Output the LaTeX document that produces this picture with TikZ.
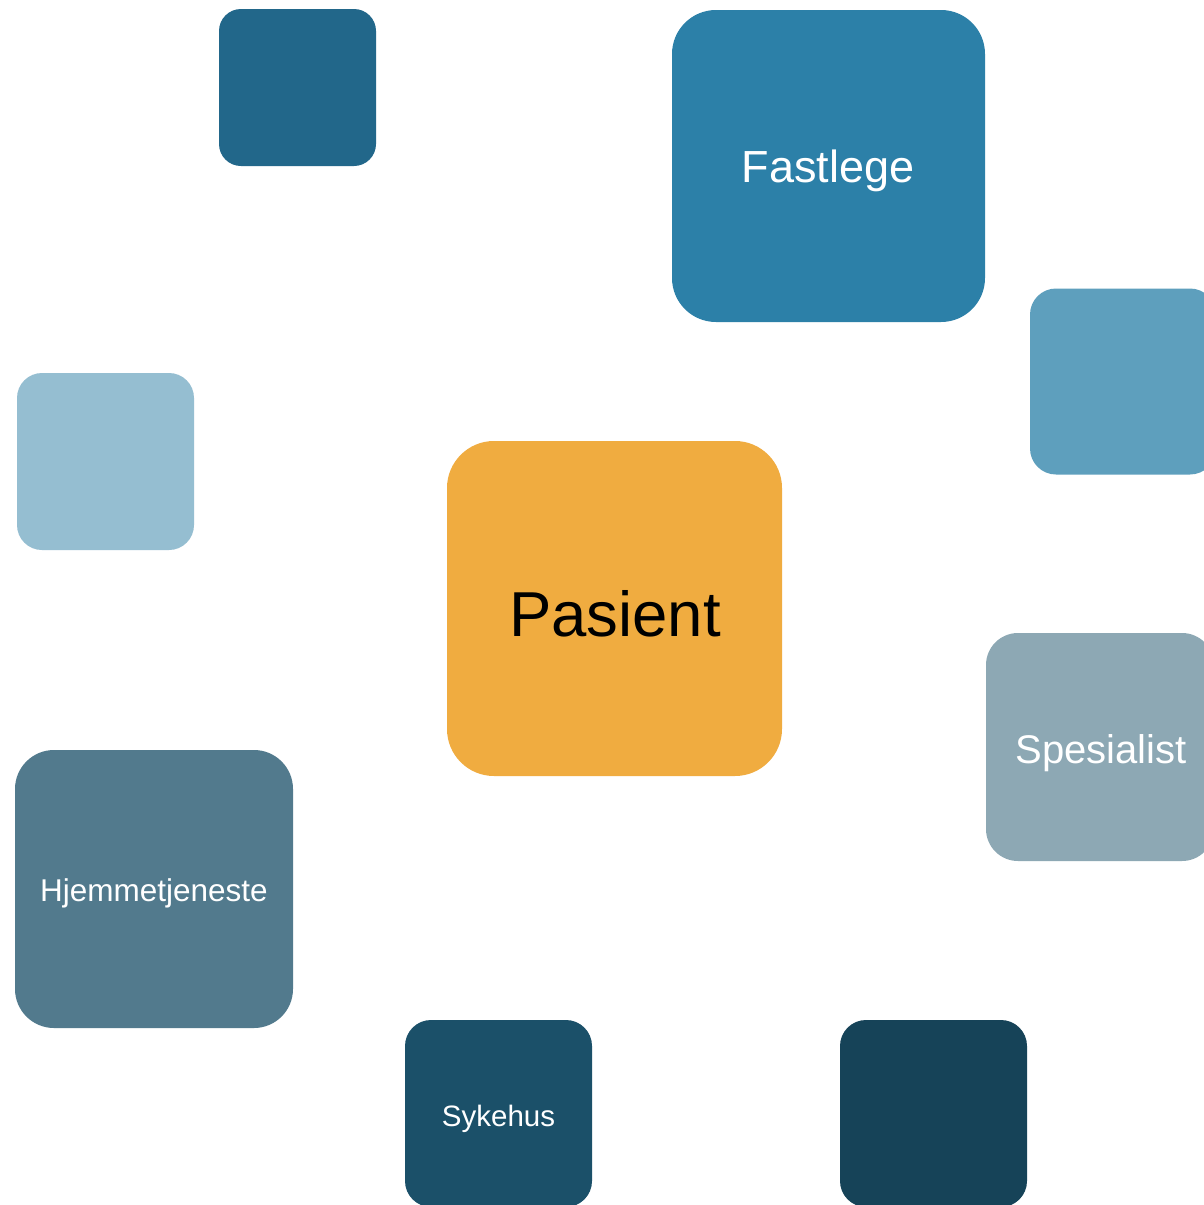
\documentclass[tikz,border=0pt]{standalone}
\usepackage{fontspec}
\setmainfont{Liberation Sans}
\definecolor{cTL}{HTML}{22678A}
\definecolor{cFast}{HTML}{2C80A8}
\definecolor{cRight}{HTML}{5E9FBD}
\definecolor{cLeft}{HTML}{95BED1}
\definecolor{cPas}{HTML}{F0AC40}
\definecolor{cSpes}{HTML}{8DA8B4}
\definecolor{cHjem}{HTML}{527A8D}
\definecolor{cSyk}{HTML}{1B5069}
\definecolor{cBot}{HTML}{164358}
\tikzset{
  tile/.style={rectangle, inner sep=0pt, draw=none},
  lbl/.style={anchor=base, inner sep=0pt, text=white}
}
\begin{document}
\begin{tikzpicture}[x=1pt,y=-1pt]
\useasboundingbox (0,0) rectangle (1204,1205);
\clip (0,0) rectangle (1204,1205);
\fill[white] (0,0) rectangle (1204,1205);
\node[tile, fill=cTL, minimum width=157pt, minimum height=157pt, rounded corners=22pt] (tl) at (297.5,87.5) {};
\node[tile, fill=cFast, minimum width=313pt, minimum height=312pt, rounded corners=44pt] (fast) at (828.5,166) {};
\node[tile, fill=cRight, minimum width=186pt, minimum height=186pt, rounded corners=26pt] (right) at (1123,381.5) {};
\node[tile, fill=cLeft, minimum width=177pt, minimum height=177pt, rounded corners=25pt] (left) at (105.5,461.5) {};
\node[tile, fill=cPas, minimum width=335pt, minimum height=335pt, rounded corners=47pt] (pas) at (614.5,608.5) {};
\node[tile, fill=cSpes, minimum width=228pt, minimum height=228pt, rounded corners=32pt] (spes) at (1100,747) {};
\node[tile, fill=cHjem, minimum width=278pt, minimum height=278pt, rounded corners=39pt] (hjem) at (154,889) {};
\node[tile, fill=cSyk, minimum width=187pt, minimum height=187pt, rounded corners=26pt] (syk) at (498.5,1113.5) {};
\node[tile, fill=cBot, minimum width=187pt, minimum height=187pt, rounded corners=26pt] (bot) at (933.5,1113.5) {};
\node[lbl, text=black, font=\fontsize{63.5}{70}\selectfont] (pasT) at (615,636) {Pasient};
\node[lbl, font=\fontsize{45}{50}\selectfont] (fastT) at (828,182) {Fastlege};
\node[lbl, font=\fontsize{40}{45}\selectfont] (spesT) at (1101,763) {Spesialist};
\node[lbl, font=\fontsize{31.5}{36}\selectfont] (hjemT) at (154,901.5) {Hjemmetjeneste};
\node[lbl, font=\fontsize{29.5}{34}\selectfont] (sykT) at (498.5,1126.5) {Sykehus};
\end{tikzpicture}
\end{document}
